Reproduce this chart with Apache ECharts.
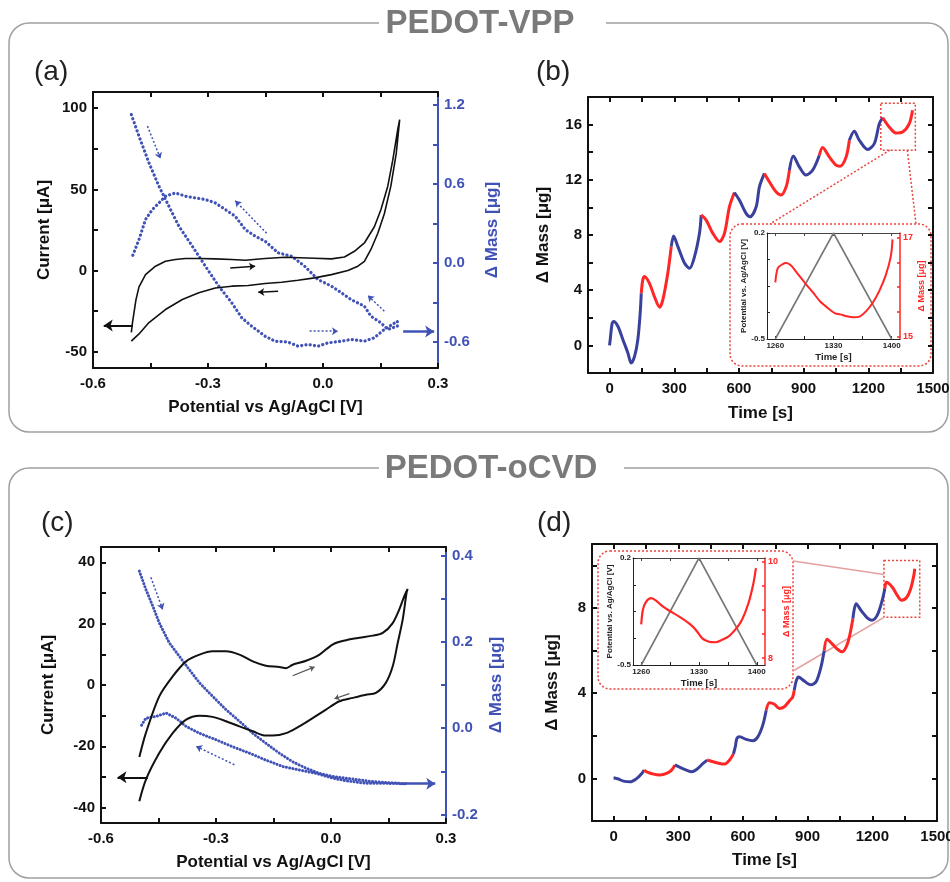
<!DOCTYPE html>
<html>
<head>
<meta charset="utf-8">
<title>PEDOT-VPP / PEDOT-oCVD EQCM</title>
<script src="https://cdn.jsdelivr.net/npm/echarts@6/dist/echarts.min.js"></script>
<style>
  html, body { margin: 0; padding: 0; background: #fff; }
  #chart { width: 950px; height: 882px; }
</style>
</head>
<body>
<div id="chart"></div>
<script>
// ---- (a) PEDOT-VPP: cyclic voltammogram + mass change ----
const cvA_V = [-0.500, -0.497, -0.488, -0.480, -0.463, -0.437, -0.411, -0.385, -0.359, -0.324,
  -0.281, -0.238, -0.203, -0.151, -0.099, -0.022, 0.022, 0.056, 0.082, 0.108,
  0.134, 0.151, 0.169, 0.182, 0.195, 0.200,
  0.191, 0.177, 0.160, 0.143, 0.125, 0.108, 0.091, 0.065, 0.022, -0.022,
  -0.065, -0.108, -0.151, -0.195, -0.238, -0.281, -0.324, -0.367, -0.411, -0.454,
  -0.480, -0.500]
const cvA_I = [-38, -32, -18, -10, -2.5, 2.7, 5.7, 6.8, 7.4, 7.4,
  7.2, 6.8, 6.4, 7.4, 8.2, 7.6, 7.2, 8.4, 11.9, 17,
  27, 37.5, 52, 68, 87, 93,
  72, 52, 35, 23, 13, 5.7, 2.7, 0, -2.5, -4.5,
  -6, -7.2, -8, -9.2, -9.6, -10.7, -13.7, -17.8, -24, -32,
  -39, -43.4]
const massA_V = [-0.500, -0.480, -0.454, -0.428, -0.402, -0.376, -0.341, -0.307, -0.272, -0.238,
  -0.212, -0.186, -0.151, -0.125, -0.091, -0.065, -0.039, -0.013, 0.013, 0.048,
  0.073, 0.108, 0.134, 0.160, 0.194,
  0.194, 0.169, 0.151, 0.125, 0.108, 0.073, 0.048, 0.022, -0.013, -0.048,
  -0.082, -0.117, -0.151, -0.177, -0.203, -0.229, -0.255, -0.281, -0.307, -0.333,
  -0.359, -0.385, -0.411, -0.428, -0.445, -0.463, -0.480, -0.497]
const massA_M = [1.128, 0.963, 0.761, 0.583, 0.431, 0.279, 0.127, -0.025, -0.177, -0.304,
  -0.418, -0.482, -0.558, -0.596, -0.603, -0.634, -0.621, -0.634, -0.609, -0.596,
  -0.583, -0.596, -0.570, -0.507, -0.444,
  -0.482, -0.507, -0.456, -0.406, -0.330, -0.279, -0.228, -0.177, -0.127, -0.025,
  0.051, 0.076, 0.165, 0.203, 0.254, 0.355, 0.406, 0.456, 0.482, 0.494,
  0.507, 0.532, 0.507, 0.456, 0.406, 0.330, 0.177, 0.051]

// ---- (b) PEDOT-VPP: mass vs time ----
const tB = [0, 3, 12, 19, 39, 62, 85, 100, 116, 131,
  142, 147, 154, 162, 185, 208, 232, 247, 270, 286,
  297, 317, 348, 371, 394, 417, 425, 448, 479, 510,
  533, 556, 579, 602, 633, 652, 680, 695, 718, 741,
  772, 795, 819, 834, 852, 880, 911, 942, 973, 988,
  1019, 1050, 1069, 1097, 1112, 1135, 1158, 1197, 1228, 1251,
  1267, 1297, 1328, 1359, 1390, 1405]
const mB = [0, 0.41, 1.6, 1.73, 1.37, 0.41, -0.55, -1.28, -0.8, 0.41,
  2.34, 3.78, 4.75, 4.99, 4.5, 3.54, 2.77, 3.3, 5.23, 7.16,
  7.93, 7.16, 5.95, 5.59, 6.43, 8.12, 9.45, 9.08, 8.12, 7.52,
  8.12, 10.05, 11.08, 10.53, 9.57, 9.33, 10.05, 11.49, 12.46, 11.86,
  11.13, 10.89, 11.49, 12.70, 13.73, 12.94, 12.34, 12.70, 13.78, 14.34,
  13.66, 13.06, 12.99, 13.66, 14.87, 15.52, 14.87, 14.19, 14.63, 16.07,
  16.5, 15.83, 15.4, 15.47, 16.07, 17.04]
const switchB = [144, 282, 420, 560, 697, 834, 973, 1112, 1252]
const tBi = [1260, 1263, 1269, 1273, 1279, 1286, 1296, 1306, 1314, 1326, 1332,
  1338, 1346, 1354, 1362, 1369, 1377, 1385, 1393, 1399, 1401]
const mBi = [16.10, 16.39, 16.47, 16.49, 16.44, 16.29, 16.08, 15.88, 15.71, 15.54, 15.47,
  15.45, 15.41, 15.39, 15.41, 15.51, 15.68, 15.92, 16.25, 16.63, 16.97]

// ---- (c) PEDOT-oCVD: cyclic voltammogram + mass change ----
const cvC_V = [-0.500, -0.483, -0.448, -0.413, -0.378, -0.343, -0.309, -0.274, -0.239, -0.204,
  -0.170, -0.135, -0.117, -0.100, -0.065, -0.030, 0.004, 0.039, 0.074, 0.109,
  0.135, 0.161, 0.178, 0.191, 0.200,
  0.197, 0.187, 0.174, 0.161, 0.143, 0.117, 0.091, 0.057, 0.022, -0.013,
  -0.048, -0.083, -0.117, -0.152, -0.170, -0.204, -0.239, -0.274, -0.309, -0.343,
  -0.378, -0.413, -0.448, -0.483, -0.500]
const cvC_I = [-23.5, -15.7, -3.7, 2.8, 7.7, 9.9, 11.0, 11.0, 9.9, 7.7,
  6.3, 5.9, 5.5, 6.6, 7.9, 9.9, 13.2, 14.6, 15.4, 16.1,
  17.0, 20.2, 24.6, 28.9, 31.3,
  30, 21.3, 13.7, 6.1, 0.7, -2.6, -3.2, -4.2, -5.3, -8.0,
  -10.8, -13.5, -15.7, -16.5, -16.5, -15.1, -13.5, -11.8, -10.4, -10.0,
  -11.3, -15.7, -22.2, -30.9, -37.9]
const massC_V = [-0.500, -0.483, -0.465, -0.448, -0.422, -0.396, -0.370, -0.343, -0.309, -0.274,
  -0.239, -0.204, -0.170, -0.135, -0.100, -0.065, -0.030, 0.004, 0.039, 0.074,
  0.109, 0.143, 0.178, 0.196,
  0.196, 0.143, 0.091, 0.039, 0.004, -0.039, -0.083, -0.126, -0.170, -0.213,
  -0.257, -0.300, -0.343, -0.378, -0.404, -0.430, -0.457, -0.483, -0.496]
const massC_M = [0.364, 0.322, 0.283, 0.244, 0.198, 0.167, 0.136, 0.105, 0.074, 0.043,
  0.016, -0.012, -0.035, -0.058, -0.078, -0.093, -0.105, -0.112, -0.116, -0.120,
  -0.124, -0.126, -0.128, -0.129,
  -0.131, -0.128, -0.128, -0.122, -0.116, -0.105, -0.097, -0.089, -0.074, -0.058,
  -0.043, -0.027, -0.012, 0.004, 0.023, 0.035, 0.027, 0.023, 0.004]

// ---- (d) PEDOT-oCVD: mass vs time ----
const tD = [0, 23, 46, 77, 108, 131, 142, 154, 185, 215,
  246, 269, 285, 308, 338, 362, 385, 415, 434, 462,
  492, 515, 538, 556, 565, 572, 585, 615, 646, 669,
  692, 708, 723, 746, 769, 792, 818, 830, 838, 848,
  858, 880, 915, 940, 962, 977, 990, 1015, 1040, 1060,
  1080, 1095, 1110, 1125, 1150, 1175, 1198, 1223, 1246, 1258,
  1265, 1292, 1315, 1336, 1360, 1378, 1392, 1397]
const mD = [0.03, -0.03, -0.13, -0.16, 0, 0.23, 0.39, 0.31, 0.2, 0.16,
  0.23, 0.39, 0.63, 0.52, 0.39, 0.31, 0.42, 0.7, 0.86, 0.78,
  0.7, 0.67, 0.86, 1.15, 1.5, 1.88, 1.95, 1.83, 1.77, 1.95,
  2.5, 3.2, 3.55, 3.48, 3.28, 3.36, 3.67, 3.8, 4.14, 4.6,
  4.76, 4.6, 4.39, 4.55, 5.23, 6.0, 6.53, 6.3, 6.05, 5.94,
  6.2, 6.7, 7.5, 8.2, 7.85, 7.55, 7.42, 7.66, 8.36, 8.9,
  9.2, 8.98, 8.6, 8.36, 8.5, 8.9, 9.5, 9.84]
const switchD = [142, 284, 418, 556, 694, 831, 969, 1110, 1252]
const tDi = [1260, 1262, 1266, 1272, 1278, 1286, 1294, 1306, 1318, 1326,
  1334, 1342, 1350, 1358, 1366, 1374, 1382, 1390, 1396, 1399]
const mDi = [8.70, 9.0, 9.17, 9.24, 9.19, 9.07, 8.98, 8.86, 8.72, 8.59,
  8.41, 8.34, 8.33, 8.38, 8.45, 8.59, 8.79, 9.14, 9.55, 9.86]

// potential sweep shown in both insets
const potT = [1260, 1330, 1400]
const potE = [-0.5, 0.2, -0.5]

// zoomed region marked in (b) and (d)
const zoomB = { t: [1258, 1418], m: [14.15, 17.55] }
const zoomD = { t: [1254, 1420], m: [7.56, 10.23] }

const FONT = 'Liberation Sans, Arial, sans-serif'
const BLUE = '#4052b5'
const BLUE_D = '#3a419c'
const RED = '#ff2626'
const BLACK = '#111'

const zip = (xs, ys) => xs.map((x, i) => [x, ys[i]])

// split a mass trace into alternating blue / red sweep segments
function sweepSeries (ts, ms, switches, xi, yi) {
  const segs = []
  let cur = null
  let prevIdx = -1
  ts.forEach((t, i) => {
    const idx = switches.filter(s => t >= s).length
    if (idx !== prevIdx) {
      if (cur) cur.push([t, ms[i]])
      cur = []
      segs.push({ idx, pts: cur })
      prevIdx = idx
    }
    cur.push([t, ms[i]])
  })
  return segs.map(s => ({
    type: 'line', xAxisIndex: xi, yAxisIndex: yi, data: s.pts,
    showSymbol: false, smooth: 0.3, silent: true,
    lineStyle: { color: s.idx % 2 === 0 ? BLUE_D : RED, width: 3 },
  }))
}

function vAxis (o) {
  const col = o.color || BLACK
  return {
    type: 'value', gridIndex: o.grid, position: o.pos, min: o.min, max: o.max,
    name: o.name || '', nameLocation: 'middle', nameGap: o.nameGap || 0,
    nameTextStyle: { fontFamily: FONT, fontWeight: 'bold', fontSize: o.nameSize || 17, color: col },
    axisLine: { show: true, onZero: false, lineStyle: { color: o.lineColor || col, width: o.lw || 2 } },
    axisTick: {
      show: true, inside: true, length: o.tickLen || 5, customValues: o.ticks,
      lineStyle: { color: o.lineColor || col, width: o.lw || 2 },
    },
    axisLabel: {
      show: !!o.labels, customValues: o.labels || [], margin: o.margin || 6,
      fontFamily: FONT, fontWeight: 'bold', fontSize: o.fontSize || 15, color: col,
      formatter: o.fmt || (v => String(v)),
    },
    splitLine: { show: false },
  }
}

const f1 = v => v.toFixed(1)

// arrow annotation as markLine pair
function arrow (x1, y1, x2, y2, color, width, size, dotted) {
  return [
    { coord: [x1, y1], symbol: 'none', lineStyle: { color, width, type: dotted ? [2, 2] : 'solid' }, itemStyle: { color } },
    { coord: [x2, y2], symbol: 'arrow', symbolSize: size },
  ]
}
function marks (list) {
  return { silent: true, symbol: ['none', 'arrow'], label: { show: false }, animation: false, data: list }
}

const grids = [
  { left: 93, top: 92, width: 345, height: 276 },   // a
  { left: 588, top: 97, width: 345, height: 276 },  // b
  { left: 101, top: 547, width: 345, height: 276 }, // c
  { left: 592, top: 544, width: 345, height: 277 }, // d
  { left: 767, top: 233, width: 133, height: 106 }, // b inset
  { left: 633, top: 558, width: 132, height: 107 }, // d inset
].map(g => Object.assign({ outerBoundsMode: 'none', containLabel: false }, g))

const ticksV = [-0.6, -0.45, -0.3, -0.15, 0, 0.15, 0.3]
const ticksT = [0, 150, 300, 450, 600, 750, 900, 1050, 1200, 1350, 1500]
const labT = [0, 300, 600, 900, 1200, 1500]
const ticksTi = [1260, 1295, 1330, 1365, 1400]

const xAxis = [
  vAxis({ grid: 0, pos: 'bottom', min: -0.6, max: 0.3, ticks: ticksV, labels: [-0.6, -0.3, 0, 0.3], fmt: f1, name: 'Potential vs Ag/AgCl [V]', nameGap: 31, margin: 8 }),
  vAxis({ grid: 0, pos: 'top', min: -0.6, max: 0.3, ticks: ticksV }),
  vAxis({ grid: 1, pos: 'bottom', min: -100, max: 1500, ticks: ticksT, labels: labT, name: 'Time [s]', nameGap: 32, margin: 8 }),
  vAxis({ grid: 1, pos: 'top', min: -100, max: 1500, ticks: ticksT }),
  vAxis({ grid: 2, pos: 'bottom', min: -0.6, max: 0.3, ticks: ticksV, labels: [-0.6, -0.3, 0, 0.3], fmt: f1, name: 'Potential vs Ag/AgCl [V]', nameGap: 31, margin: 8 }),
  vAxis({ grid: 2, pos: 'top', min: -0.6, max: 0.3, ticks: ticksV }),
  vAxis({ grid: 3, pos: 'bottom', min: -100, max: 1500, ticks: ticksT, labels: labT, name: 'Time [s]', nameGap: 31, margin: 8 }),
  vAxis({ grid: 3, pos: 'top', min: -100, max: 1500, ticks: ticksT }),
  vAxis({ grid: 4, pos: 'bottom', min: 1250, max: 1410, ticks: ticksTi, labels: [1260, 1330, 1400], name: 'Time [s]', nameGap: 13, nameSize: 9.5, fontSize: 8, margin: 3, lw: 1, tickLen: 3, color: '#222' }),
  vAxis({ grid: 4, pos: 'top', min: 1250, max: 1410, ticks: ticksTi, lw: 1, tickLen: 3, color: '#444' }),
  vAxis({ grid: 5, pos: 'bottom', min: 1250, max: 1410, ticks: ticksTi, labels: [1260, 1330, 1400], name: 'Time [s]', nameGap: 13, nameSize: 9.5, fontSize: 8, margin: 3, lw: 1, tickLen: 3, color: '#222' }),
  vAxis({ grid: 5, pos: 'top', min: 1250, max: 1410, ticks: ticksTi, lw: 1, tickLen: 3, color: '#444' }),
]

const yAxis = [
  vAxis({ grid: 0, pos: 'left', min: -60, max: 110, ticks: [-50, -25, 0, 25, 50, 75, 100], labels: [-50, 0, 50, 100], name: 'Current [μA]', nameGap: 40 }),
  vAxis({ grid: 0, pos: 'right', min: -0.8, max: 1.3, ticks: [-0.6, -0.3, 0, 0.3, 0.6, 0.9, 1.2], labels: [-0.6, 0, 0.6, 1.2], fmt: f1, name: 'Δ Mass [μg]', nameGap: 46, color: BLUE }),
  vAxis({ grid: 1, pos: 'left', min: -2, max: 18, ticks: [0, 2, 4, 6, 8, 10, 12, 14, 16], labels: [0, 4, 8, 12, 16], name: 'Δ Mass [μg]', nameGap: 36 }),
  vAxis({ grid: 1, pos: 'right', min: -2, max: 18, ticks: [0, 2, 4, 6, 8, 10, 12, 14, 16] }),
  vAxis({ grid: 2, pos: 'left', min: -45, max: 45, ticks: [-40, -30, -20, -10, 0, 10, 20, 30, 40], labels: [-40, -20, 0, 20, 40], name: 'Current [μA]', nameGap: 44 }),
  vAxis({ grid: 2, pos: 'right', min: -0.22, max: 0.42, ticks: [-0.2, -0.1, 0, 0.1, 0.2, 0.3, 0.4], labels: [-0.2, 0, 0.2, 0.4], fmt: f1, name: 'Δ Mass [μg]', nameGap: 42, color: BLUE }),
  vAxis({ grid: 3, pos: 'left', min: -2, max: 11, ticks: [0, 2, 4, 6, 8, 10], labels: [0, 4, 8], name: 'Δ Mass [μg]', nameGap: 31 }),
  vAxis({ grid: 3, pos: 'right', min: -2, max: 11, ticks: [0, 2, 4, 6, 8, 10] }),
  vAxis({ grid: 4, pos: 'left', min: -0.5, max: 0.2, ticks: [-0.5, -0.325, -0.15, 0.025, 0.2], labels: [-0.5, 0.2], fmt: f1, name: 'Potential vs. Ag/AgCl [V]', nameGap: 19, nameSize: 8, fontSize: 8, margin: 2, lw: 1, tickLen: 3, color: '#222' }),
  vAxis({ grid: 4, pos: 'right', min: 14.95, max: 17.1, ticks: [15, 15.5, 16, 16.5, 17], labels: [15, 17], name: 'Δ Mass [μg]', nameGap: 15, nameSize: 9, fontSize: 9, margin: 3, lw: 1.5, tickLen: 3, color: RED }),
  vAxis({ grid: 5, pos: 'left', min: -0.5, max: 0.2, ticks: [-0.5, -0.325, -0.15, 0.025, 0.2], labels: [-0.5, 0.2], fmt: f1, name: 'Potential vs. Ag/AgCl [V]', nameGap: 19, nameSize: 8, fontSize: 8, margin: 2, lw: 1, tickLen: 3, color: '#222' }),
  vAxis({ grid: 5, pos: 'right', min: 7.86, max: 10.07, ticks: [8, 8.5, 9, 9.5, 10], labels: [8, 10], name: 'Δ Mass [μg]', nameGap: 14, nameSize: 9, fontSize: 9, margin: 3, lw: 1.5, tickLen: 3, color: RED }),
]

const dots = (color, width, dash) => ({ color, width, type: dash, cap: 'round' })

const series = [
  // (a)
  {
    type: 'line', xAxisIndex: 0, yAxisIndex: 1, data: zip(massA_V, massA_M), showSymbol: false, silent: true,
    lineStyle: dots(BLUE, 3.2, [0.1, 4.2]),
  },
  {
    type: 'line', xAxisIndex: 0, yAxisIndex: 0, data: zip(cvA_V, cvA_I), showSymbol: false, silent: true,
    lineStyle: { color: BLACK, width: 1.6 },
    markLine: marks([
      arrow(-0.496, -33.8, -0.572, -33.8, BLACK, 2, 9),
      arrow(-0.242, 1.6, -0.177, 2.7, BLACK, 1.5, 6),
      arrow(-0.117, -12.7, -0.169, -13.3, BLACK, 1.5, 6),
      arrow(0.209, -37.5, 0.290, -37.5, BLUE, 2.5, 9),
      arrow(-0.458, 89, -0.424, 69, BLUE, 1.5, 6, true),
      arrow(-0.147, 23, -0.229, 43, BLUE, 1.5, 6, true),
      arrow(-0.035, -37.3, 0.039, -37.3, BLUE, 1.5, 6, true),
      arrow(0.160, -25, 0.117, -15.4, BLUE, 1.5, 6, true),
    ]),
  },
  // (b)
  ...sweepSeries(tB, mB, switchB, 2, 2),
  // (c)
  {
    type: 'line', xAxisIndex: 4, yAxisIndex: 5, data: zip(massC_V, massC_M), showSymbol: false, silent: true,
    lineStyle: dots(BLUE, 3, [0.1, 3.2]),
  },
  {
    type: 'line', xAxisIndex: 4, yAxisIndex: 4, data: zip(cvC_V, cvC_I), showSymbol: false, silent: true, smooth: 0.3,
    lineStyle: { color: BLACK, width: 2 },
    markLine: marks([
      arrow(-0.478, -30.1, -0.557, -30.1, BLACK, 2, 9),
      arrow(-0.100, 3.0, -0.043, 5.9, '#555', 1.2, 5),
      arrow(0.048, -2.8, 0.009, -4.5, '#555', 1.2, 5),
      arrow(0.191, -32.2, 0.272, -32.2, BLUE, 2.5, 9),
      arrow(-0.470, 35.1, -0.439, 24.6, BLUE, 1.5, 6, true),
      arrow(-0.252, -26, -0.352, -20, BLUE, 1.5, 6, true),
    ]),
  },
  // (d)
  ...sweepSeries(tD, mD, switchD, 6, 6),
  // (b) inset
  {
    type: 'line', xAxisIndex: 8, yAxisIndex: 8, data: zip(potT, potE), showSymbol: false, silent: true,
    lineStyle: { color: '#777', width: 1.6 },
  },
  {
    type: 'line', xAxisIndex: 8, yAxisIndex: 9, data: zip(tBi, mBi), showSymbol: false, silent: true, smooth: 0.3,
    lineStyle: { color: RED, width: 2 },
  },
  // (d) inset
  {
    type: 'line', xAxisIndex: 10, yAxisIndex: 10, data: zip(potT, potE), showSymbol: false, silent: true,
    lineStyle: { color: '#777', width: 1.6 },
  },
  {
    type: 'line', xAxisIndex: 10, yAxisIndex: 11, data: zip(tDi, mDi), showSymbol: false, silent: true, smooth: 0.3,
    lineStyle: { color: RED, width: 2.2 },
  },
]

const chart = echarts.init(document.getElementById('chart'))
chart.setOption({
  animation: false,
  backgroundColor: '#fff',
  textStyle: { fontFamily: FONT },
  grid: grids,
  xAxis,
  yAxis,
  series,
})

// ---- frames, headers, panel labels, inset boxes ----
const boxStroke = '#a0a0a0'
const redDash = { fill: 'none', stroke: '#e8453c', lineWidth: 1.5, lineDash: [2, 2] }
function rectFromData (xi, yi, z) {
  const p0 = chart.convertToPixel({ xAxisIndex: xi, yAxisIndex: yi }, [z.t[0], z.m[1]])
  const p1 = chart.convertToPixel({ xAxisIndex: xi, yAxisIndex: yi }, [z.t[1], z.m[0]])
  return { x: p0[0], y: p0[1], width: p1[0] - p0[0], height: p1[1] - p0[1] }
}
const zb = rectFromData(2, 2, zoomB)
const zd = rectFromData(6, 6, zoomD)

const txt = (text, x, y, font, fill) => ({
  type: 'text', x, y, silent: true,
  style: { text, font, fill, align: 'left', verticalAlign: 'middle' },
})

const graphic = [
  { type: 'rect', silent: true, z: 0, shape: { x: 9, y: 23, width: 939, height: 409, r: 20 }, style: { fill: 'none', stroke: boxStroke, lineWidth: 1.5 } },
  { type: 'rect', silent: true, z: 1, shape: { x: 379, y: 10, width: 227, height: 26 }, style: { fill: '#fff' } },
  { type: 'text', silent: true, z: 2, x: 480, y: 24, style: { text: 'PEDOT-VPP', font: 'bold 33px ' + FONT, fill: '#7a7a7a', align: 'center', verticalAlign: 'middle' } },
  { type: 'rect', silent: true, z: 0, shape: { x: 9, y: 468, width: 939, height: 410, r: 20 }, style: { fill: 'none', stroke: boxStroke, lineWidth: 1.5 } },
  { type: 'rect', silent: true, z: 1, shape: { x: 379, y: 455, width: 245, height: 26 }, style: { fill: '#fff' } },
  { type: 'text', silent: true, z: 2, x: 491, y: 469, style: { text: 'PEDOT-oCVD', font: 'bold 33px ' + FONT, fill: '#7a7a7a', align: 'center', verticalAlign: 'middle' } },
  txt('(a)', 34, 72, '28px ' + FONT, '#222'),
  txt('(b)', 536, 72, '28px ' + FONT, '#222'),
  txt('(c)', 41, 523, '28px ' + FONT, '#222'),
  txt('(d)', 537, 523, '28px ' + FONT, '#222'),
  // (b) inset frame, zoom box, connectors
  { type: 'rect', silent: true, shape: { x: 730, y: 224, width: 201, height: 142, r: 12 }, style: redDash },
  { type: 'rect', silent: true, shape: zb, style: redDash },
  { type: 'line', silent: true, shape: { x1: zb.x + 9, y1: zb.y + zb.height, x2: 770, y2: 224 }, style: redDash },
  { type: 'line', silent: true, shape: { x1: zb.x + zb.width - 8, y1: zb.y + zb.height, x2: 916, y2: 224 }, style: redDash },
  // (d) inset frame, zoom box, connectors
  { type: 'rect', silent: true, shape: { x: 598, y: 551, width: 195, height: 138, r: 12 }, style: redDash },
  { type: 'rect', silent: true, shape: zd, style: redDash },
  { type: 'line', silent: true, shape: { x1: 793, y1: 561, x2: zd.x, y2: zd.y + 14 }, style: { stroke: '#e4a0a0', lineWidth: 1.5 } },
  { type: 'line', silent: true, shape: { x1: 793, y1: 671, x2: zd.x, y2: zd.y + zd.height }, style: { stroke: '#e4a0a0', lineWidth: 1.5 } },
]
chart.setOption({ graphic })
</script>
</body>
</html>
